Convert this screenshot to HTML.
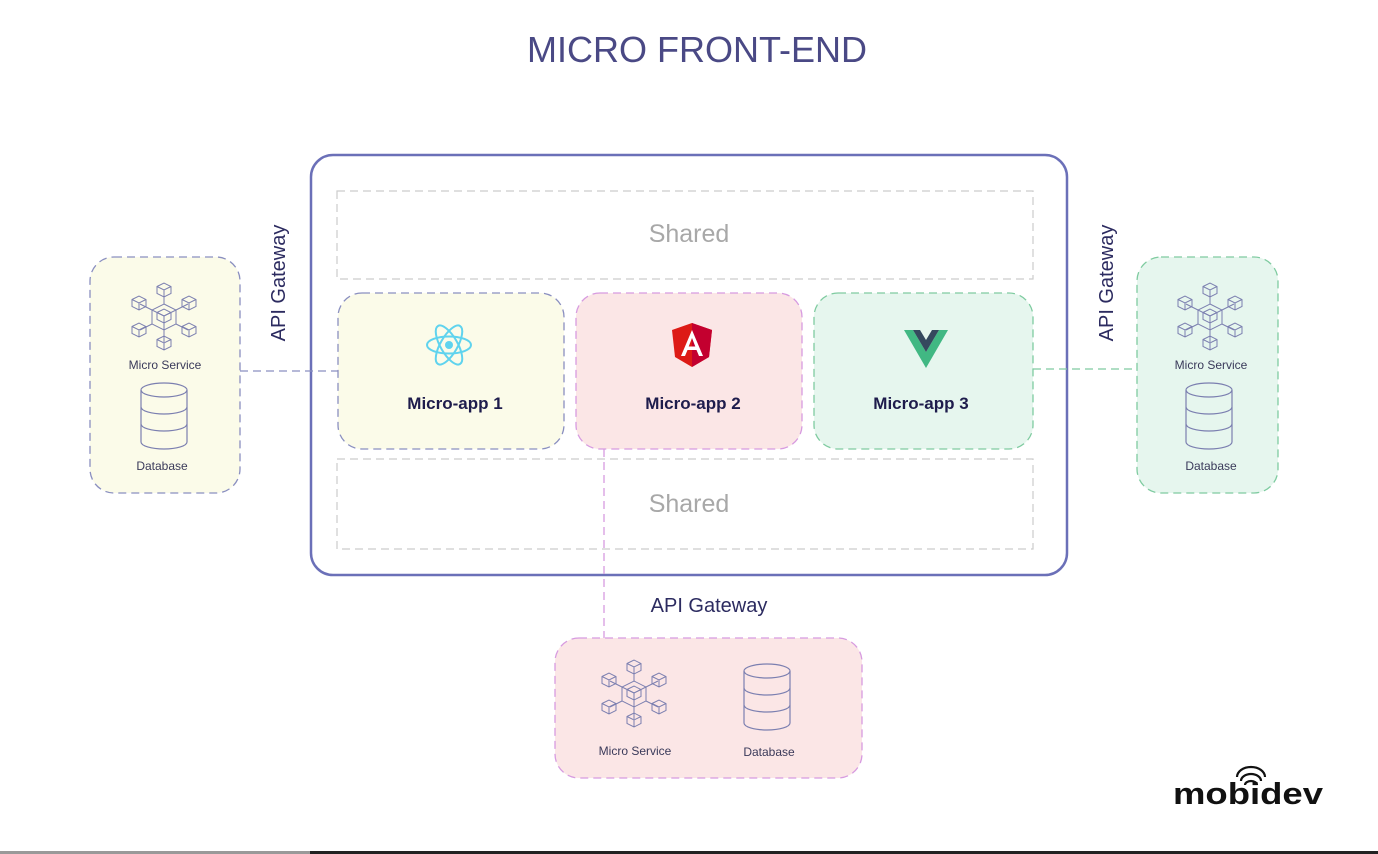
<!DOCTYPE html>
<html><head><meta charset="utf-8"><style>
html,body{margin:0;padding:0;background:#fff}
svg{display:block}
text{font-family:"Liberation Sans",sans-serif}
</style></head><body>
<svg width="1378" height="854" viewBox="0 0 1378 854" xmlns="http://www.w3.org/2000/svg">
<defs>
<g id="ms" fill="none" stroke="#7b7fb0" stroke-width="1">
  <path d="M0,-12 L12,-6 L12,8 L0,14 L-12,8 L-12,-6 Z M-12,-6 L0,0 L12,-6 M0,0 L0,14"/>
  <path d="M0,-12 L0,-24 M12,-6 L24,-12 M12,8 L24,14 M0,14 L0,26 M-12,8 L-24,14 M-12,-6 L-24,-12"/>
  <g id="cb"><path d="M-7,-3.5 L0,-7 L7,-3.5 L7,3.5 L0,7 L-7,3.5 Z M-7,-3.5 L0,0 L7,-3.5 M0,0 L0,7"/></g>
  <use href="#cb" x="0" y="-26"/><use href="#cb" x="25" y="-13"/><use href="#cb" x="25" y="14"/>
  <use href="#cb" x="0" y="27"/><use href="#cb" x="-25" y="14"/><use href="#cb" x="-25" y="-13"/>
</g>
<g id="db" fill="none" stroke="#7b7fb0" stroke-width="1.2">
  <ellipse cx="0" cy="-26" rx="23" ry="7"/>
  <path d="M-23,-26 L-23,26 A23,7 0 0 0 23,26 L23,-26"/>
  <path d="M-23,-9 A23,7 0 0 0 23,-9 M-23,8 A23,7 0 0 0 23,8"/>
</g>
</defs>

<text x="697" y="62" text-anchor="middle" font-size="36" fill="#4a4985">MICRO FRONT-END</text>

<rect x="311" y="155" width="756" height="420" rx="22" fill="#fff" stroke="#6b70b8" stroke-width="2.5"/>
<rect x="337" y="191" width="696" height="88" fill="none" stroke="#cccccc" stroke-width="1.2" stroke-dasharray="8,5"/>
<text x="689" y="242" text-anchor="middle" font-size="25" fill="#a8a8a8">Shared</text>
<rect x="337" y="459" width="696" height="90" fill="none" stroke="#cccccc" stroke-width="1.2" stroke-dasharray="8,5"/>
<text x="689" y="512" text-anchor="middle" font-size="25" fill="#a8a8a8">Shared</text>

<line x1="240" y1="371" x2="338" y2="371" stroke="#8a8fc0" stroke-width="1.3" stroke-dasharray="8,5"/>
<line x1="1033" y1="369" x2="1137" y2="369" stroke="#7fcba0" stroke-width="1.3" stroke-dasharray="8,5"/>
<line x1="604" y1="449" x2="604" y2="638" stroke="#d79be0" stroke-width="1.3" stroke-dasharray="8,5"/>

<rect x="338" y="293" width="226" height="156" rx="24" fill="#fbfbe9" stroke="#8a8fc0" stroke-width="1.3" stroke-dasharray="8,5"/>
<rect x="576" y="293" width="226" height="156" rx="24" fill="#fbe6e6" stroke="#d79be0" stroke-width="1.3" stroke-dasharray="8,5"/>
<rect x="814" y="293" width="219" height="156" rx="24" fill="#e6f6ee" stroke="#7fcba0" stroke-width="1.3" stroke-dasharray="8,5"/>

<g transform="translate(449,345)" fill="none" stroke="#5fd3ee" stroke-width="2">
  <ellipse rx="22" ry="8.5"/>
  <ellipse rx="22" ry="8.5" transform="rotate(60)"/>
  <ellipse rx="22" ry="8.5" transform="rotate(120)"/>
  <circle r="4" fill="#5fd3ee" stroke="none"/>
</g>
<g transform="translate(692,345)">
  <path d="M0,-22 L20,-15 L17,12 L0,22 L-17,12 L-20,-15 Z" fill="#dd1b16"/>
  <path d="M0,-22 L20,-15 L17,12 L0,22 Z" fill="#c3002f"/>
  <path d="M0,-15 L-11,11 L-7,11 L-4.5,5 L4.5,5 L7,11 L11,11 Z M0,-7 L3.3,1.5 L-3.3,1.5 Z" fill="#fff" fill-rule="evenodd"/>
</g>
<g transform="translate(926,348)">
  <path d="M-22,-18 L-13,-18 L0,4 L13,-18 L22,-18 L0,20 Z" fill="#41b883"/>
  <path d="M-13,-18 L-6,-18 L0,-8 L6,-18 L13,-18 L0,4 Z" fill="#35495e"/>
</g>

<text x="455" y="409" text-anchor="middle" font-size="17" font-weight="bold" fill="#1e1c4c">Micro-app 1</text>
<text x="693" y="409" text-anchor="middle" font-size="17" font-weight="bold" fill="#1e1c4c">Micro-app 2</text>
<text x="921" y="409" text-anchor="middle" font-size="17" font-weight="bold" fill="#1e1c4c">Micro-app 3</text>

<rect x="90" y="257" width="150" height="236" rx="24" fill="#fbfbe9" stroke="#8a8fc0" stroke-width="1.3" stroke-dasharray="8,5"/>
<use href="#ms" x="164" y="316"/>
<text x="165" y="369" text-anchor="middle" font-size="12" fill="#3a3a5a">Micro Service</text>
<use href="#db" x="164" y="416"/>
<text x="162" y="470" text-anchor="middle" font-size="12" fill="#3a3a5a">Database</text>

<rect x="1137" y="257" width="141" height="236" rx="24" fill="#e6f6ee" stroke="#7fcba0" stroke-width="1.3" stroke-dasharray="8,5"/>
<use href="#ms" x="1210" y="316"/>
<text x="1211" y="369" text-anchor="middle" font-size="12" fill="#3a3a5a">Micro Service</text>
<use href="#db" x="1209" y="416"/>
<text x="1211" y="470" text-anchor="middle" font-size="12" fill="#3a3a5a">Database</text>

<rect x="555" y="638" width="307" height="140" rx="24" fill="#fbe6e6" stroke="#d79be0" stroke-width="1.3" stroke-dasharray="8,5"/>
<use href="#ms" x="634" y="693"/>
<text x="635" y="755" text-anchor="middle" font-size="12" fill="#3a3a5a">Micro Service</text>
<use href="#db" x="767" y="697"/>
<text x="769" y="756" text-anchor="middle" font-size="12" fill="#3a3a5a">Database</text>

<text transform="translate(285,283) rotate(-90)" text-anchor="middle" font-size="20" fill="#2c2b60">API Gateway</text>
<text transform="translate(1113,283) rotate(-90)" text-anchor="middle" font-size="20" fill="#2c2b60">API Gateway</text>
<text x="709" y="612" text-anchor="middle" font-size="20" fill="#2c2b60">API Gateway</text>

<g fill="none" stroke="#111" stroke-width="2.2">
  <path d="M1237,777 A14,10 0 0 1 1265,777"/>
  <path d="M1241,781 A10,7 0 0 1 1261,781"/>
  <path d="M1245,785 A6,4 0 0 1 1257,785"/>
</g>
<text x="1248" y="804" text-anchor="middle" font-size="31" font-weight="bold" fill="#111" textLength="150" lengthAdjust="spacingAndGlyphs">mobidev</text>

<rect x="0" y="851" width="310" height="3" fill="#999"/>
<rect x="310" y="851" width="1068" height="3" fill="#222"/>
</svg>
</body></html>
